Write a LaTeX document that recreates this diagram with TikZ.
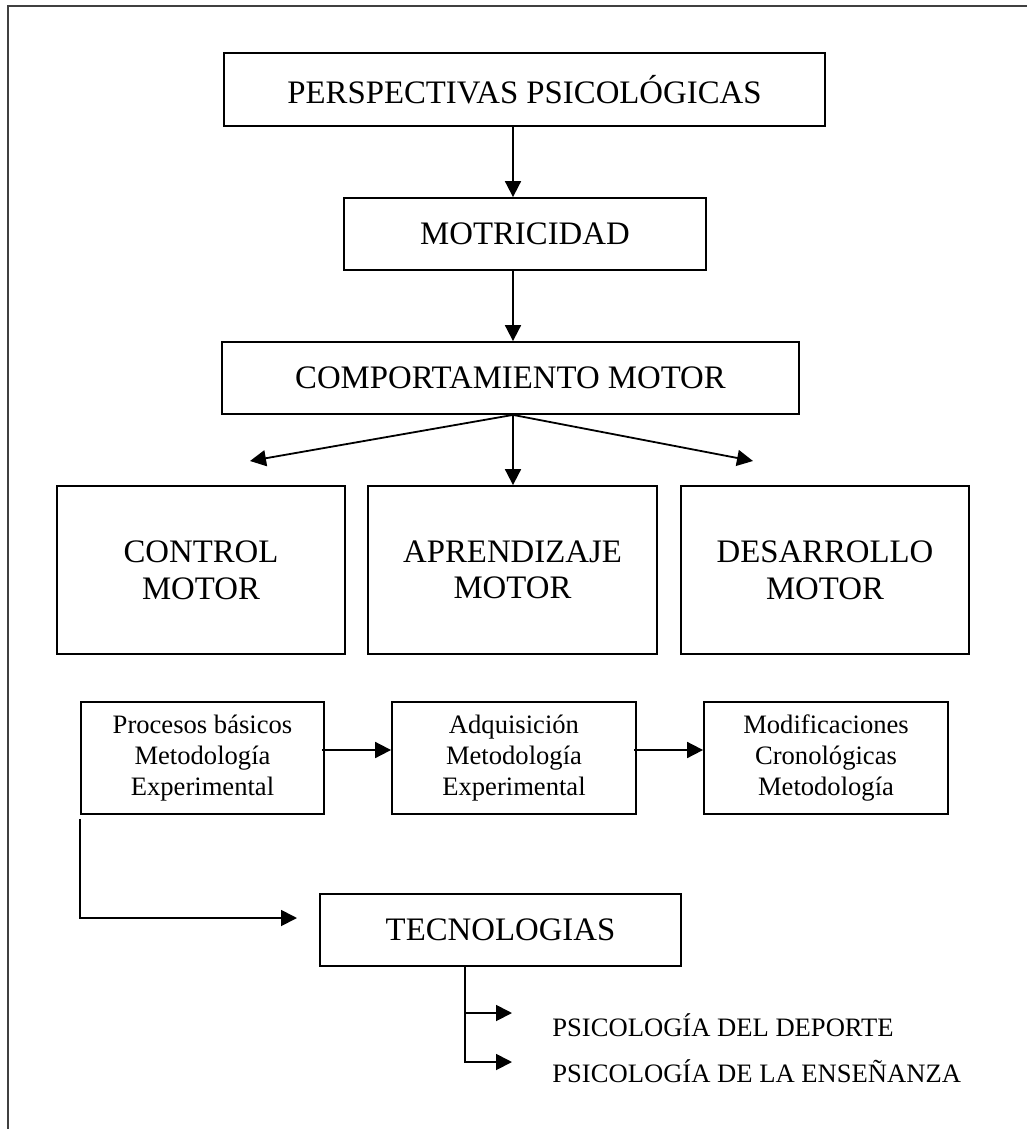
\documentclass[tikz,border=0pt]{standalone}
\usepackage{fontspec}
\setmainfont{Liberation Serif}
\usetikzlibrary{arrows.meta}

\begin{document}
\begin{tikzpicture}[
    x=0.5pt, y=-0.5pt,
    box/.style={draw=black, line width=0.9pt, rectangle, align=center, inner sep=0pt},
    bigtxt/.style={font=\fontsize{16.4}{18.3}\selectfont},
    smalltxt/.style={font=\fontsize{13.3}{15.3}\selectfont},
    arr/.style={draw=black, line width=0.9pt, -{Triangle[length=8pt,width=8pt]}},
    frame/.style={draw=black!75, line width=1pt}
  ]
  \useasboundingbox (0,0) rectangle (1027,1129);

  % page frame (top and left edges)
  \draw[frame] (8,1129) -- (8,6) -- (1027,6);

  % main chain
  \node[box, bigtxt, minimum width=300.5pt, minimum height=36.5pt] (persp) at (524.5,89.5) {PERSPECTIVAS PSICOLÓGICAS};
  \node[box, bigtxt, minimum width=181pt, minimum height=36pt] (motri) at (525,234) {MOTRICIDAD};
  \node[box, bigtxt, minimum width=288.5pt, minimum height=36pt] (comp) at (510.5,378) {COMPORTAMIENTO MOTOR};

  % three areas
  \node[box, bigtxt, minimum width=144pt, minimum height=84pt] (control) at (201,570) {CONTROL\\MOTOR};
  \node[box, bigtxt, minimum width=144.5pt, minimum height=84pt] (aprend) at (512.5,570) {APRENDIZAJE\\MOTOR};
  \node[box, bigtxt, minimum width=144pt, minimum height=84pt] (desarr) at (825,570) {DESARROLLO\\MOTOR};

  % methodology boxes
  \node[box, smalltxt, minimum width=121.5pt, minimum height=56pt] (proc) at (202.5,758) {Procesos básicos\\Metodología\\Experimental};
  \node[box, smalltxt, minimum width=122pt, minimum height=56pt] (adq) at (514,758) {Adquisición\\Metodología\\Experimental};
  \node[box, smalltxt, minimum width=122pt, minimum height=56pt] (modif) at (826,758) {Modificaciones\\Cronológicas\\Metodología};

  % applications
  \node[box, bigtxt, minimum width=180.5pt, minimum height=36pt] (tec) at (500.5,930) {TECNOLOGIAS};
  \node[smalltxt, anchor=base west, inner sep=0pt] (dep) at (552,1036) {PSICOLOGÍA DEL DEPORTE};
  \node[smalltxt, anchor=base west, inner sep=0pt] (ens) at (552,1082) {PSICOLOGÍA DE LA ENSEÑANZA};

  % helper coordinates
  \coordinate (ax) at (513,0);
  \coordinate (ay) at (0,750);
  \coordinate (tipL) at (250,461);
  \coordinate (tipR) at (753,461);
  \coordinate (tipT) at (297,918);
  \coordinate (bx) at (465,0);
  \coordinate (t1) at (512,1013);
  \coordinate (t2) at (512,1062);

  % connectors
  \draw[arr] (persp.south -| ax) -- (motri.north -| ax);
  \draw[arr] (motri.south -| ax) -- (comp.north -| ax);
  \draw[arr] (comp.south -| ax) -- (aprend.north -| ax);
  \draw[arr] (comp.south -| ax) -- (tipL);
  \draw[arr] (comp.south -| ax) -- (tipR);

  \draw[arr] ([xshift=-1.5pt]proc.east |- ay) -- (adq.west |- ay);
  \draw[arr] ([xshift=-1.5pt]adq.east |- ay) -- (modif.west |- ay);
  \draw[arr] ([yshift=-2pt]proc.south west) |- (tipT);

  \draw[arr] (tec.south -| bx) |- (t2);
  \draw[arr] (tec.south -| bx) |- (t1);
\end{tikzpicture}
\end{document}
